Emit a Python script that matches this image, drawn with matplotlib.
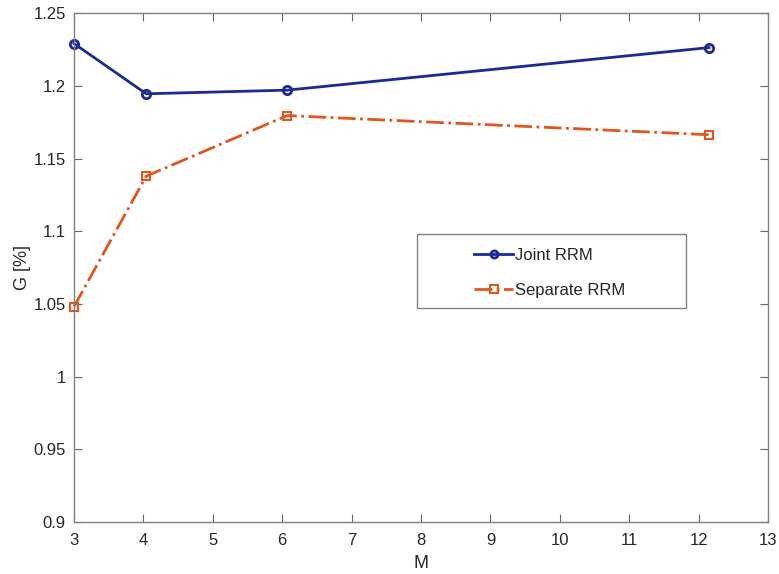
import matplotlib
matplotlib.use("Agg")
import matplotlib.pyplot as plt
from matplotlib.patches import Rectangle

plt.rcParams["font.family"] = ["Liberation Sans", "DejaVu Sans"]

# values read for each method
m_joint = [3.0, 4.04, 6.07, 12.15]
g_joint = [1.2293, 1.1947, 1.1972, 1.2265]
m_separate = [3.0, 4.04, 6.07, 12.15]
g_separate = [1.0482, 1.1380, 1.1797, 1.1665]

x_ticks = list(range(3, 14))
y_ticks = [0.9, 0.95, 1.0, 1.05, 1.1, 1.15, 1.2, 1.25]
y_tick_labels = ["0.9", "0.95", "1", "1.05", "1.1", "1.15", "1.2", "1.25"]

fig = plt.figure(figsize=(7.79, 5.74), dpi=100)
ax = fig.add_axes([0.095, 0.0906, 0.891, 0.886])

ax.plot(m_joint, g_joint, color="#1b2a94", linewidth=2, marker="o",
        markersize=6, markerfacecolor="none", markeredgewidth=2,
        label="Joint RRM", clip_on=False)
ax.plot(m_separate, g_separate, color="#e0561c", linewidth=2, linestyle="-.",
        marker="s", markersize=6, markerfacecolor="none", markeredgewidth=1.5,
        label="Separate RRM", clip_on=False)

ax.set_xlim(3, 13)
ax.set_ylim(0.9, 1.25)
ax.set_xticks(x_ticks)
ax.set_yticks(y_ticks)
ax.set_yticklabels(y_tick_labels)
ax.tick_params(direction="in", top=True, right=True, length=6,
               labelsize=12, colors="#666666", labelcolor="#262626")
ax.tick_params(axis="x", pad=8)
ax.tick_params(axis="y", pad=6)
for spine in ax.spines.values():
    spine.set_color("#808080")
    spine.set_linewidth(1)

ax.set_xlabel("M", fontsize=13, color="#262626", labelpad=5)
ax.set_ylabel("G [%]", fontsize=13, color="#262626", labelpad=2)

# legend box drawn as a plain rectangle, entries centred inside it
box = Rectangle((0.494, 0.421), 0.388, 0.146, transform=ax.transAxes,
                facecolor="white", edgecolor="#808080", linewidth=1, zorder=4)
ax.add_patch(box)
leg = ax.legend(loc="center left", bbox_to_anchor=(0.577, 0.489),
                fontsize=12, frameon=False, handlelength=2.3,
                labelspacing=1.2, handletextpad=0.15, borderpad=0,
                borderaxespad=0, markerscale=0.85)
leg.set_zorder(5)
for t in leg.get_texts():
    t.set_color("#262626")

fig.savefig("out.png", dpi=100)
